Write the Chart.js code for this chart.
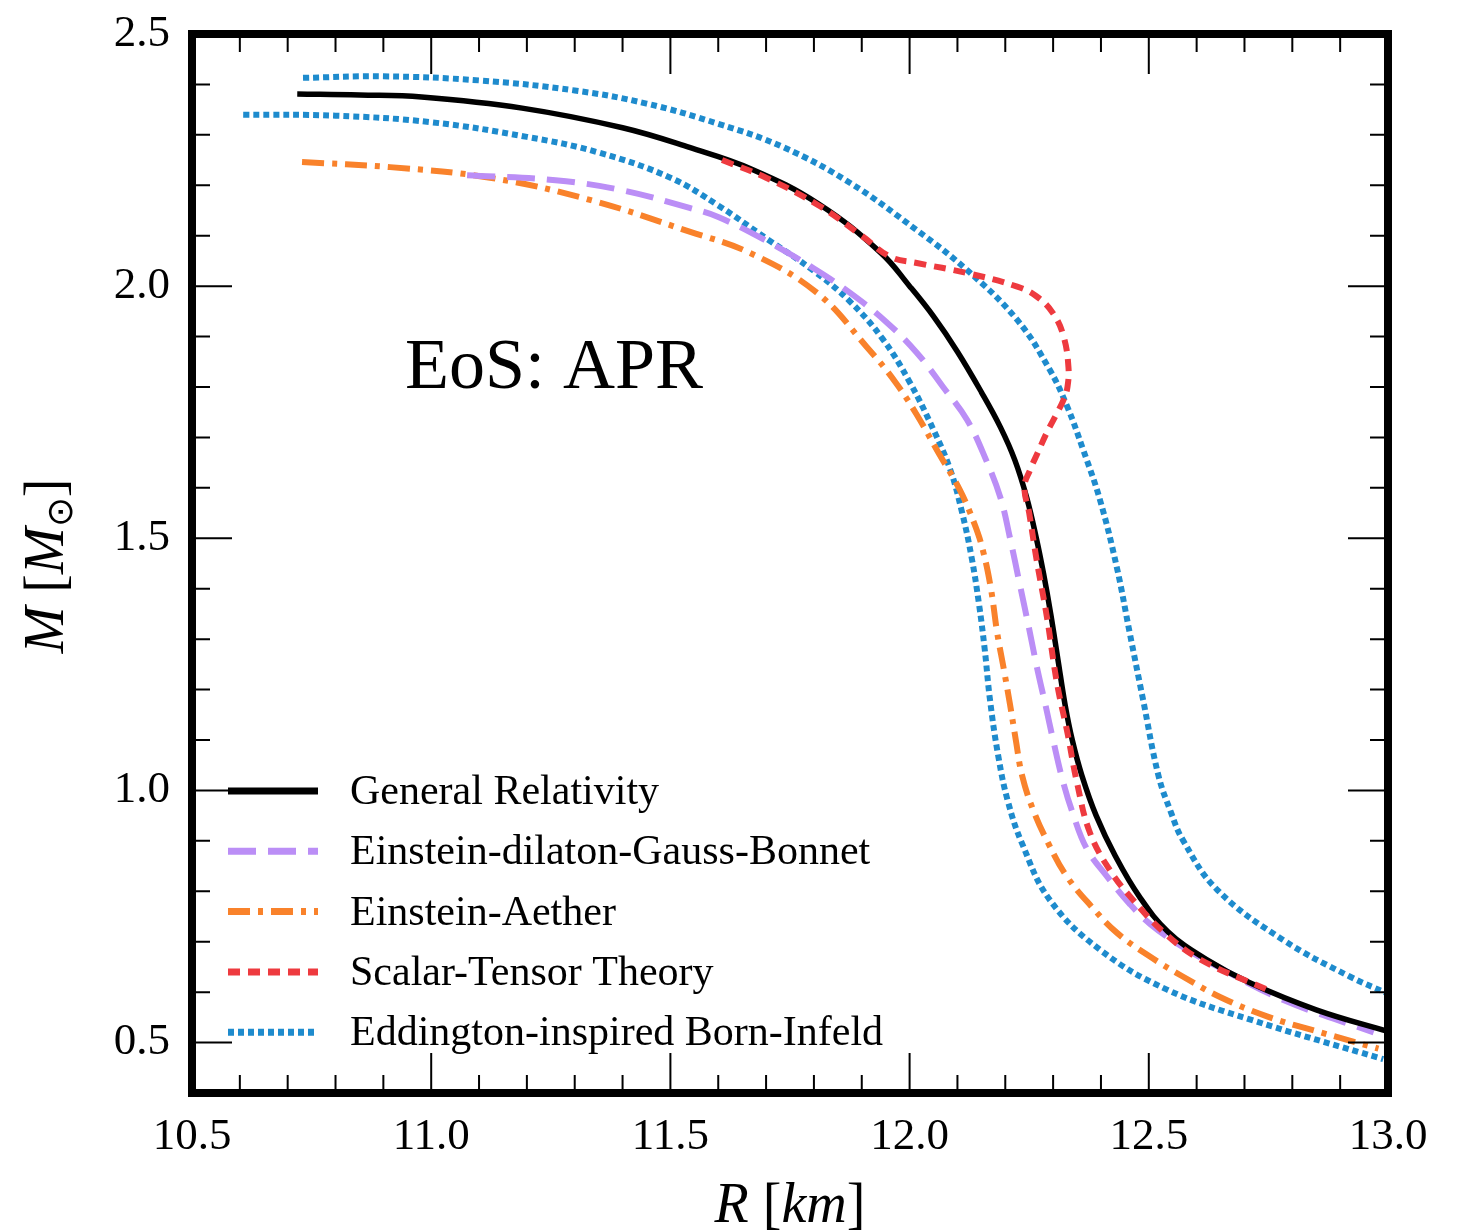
<!DOCTYPE html>
<html>
<head>
<meta charset="utf-8">
<script src="https://cdn.jsdelivr.net/npm/chart.js@4/dist/chart.umd.min.js"></script>
<style>
html,body{margin:0;padding:0;background:#fff;}
#wrap{width:1463px;height:1232px;}
</style>
</head>
<body>
<div id="wrap"><canvas id="c" width="1463" height="1232"></canvas></div>
<script>
// ---- Data (R in km, M in solar masses) ----
const grR = [10.72, 10.85, 10.98, 11.19, 11.40, 11.54, 11.67, 11.81, 11.94, 12.00, 12.05, 12.10, 12.15, 12.19, 12.22, 12.245, 12.265, 12.28, 12.295, 12.31, 12.325, 12.34, 12.36, 12.39, 12.43, 12.48, 12.54, 12.62, 12.71, 12.85, 13.0];
const grM = [2.381, 2.379, 2.375, 2.353, 2.314, 2.275, 2.232, 2.163, 2.066, 2.00, 1.94, 1.87, 1.79, 1.72, 1.655, 1.58, 1.50, 1.43, 1.35, 1.26, 1.17, 1.10, 1.03, 0.95, 0.87, 0.79, 0.72, 0.665, 0.619, 0.565, 0.522];

const edgbR = [11.075, 11.26, 11.40, 11.54, 11.60, 11.70, 11.80, 11.875, 11.95, 12.015, 12.07, 12.12, 12.16, 12.19, 12.21, 12.23, 12.25, 12.266, 12.285, 12.30, 12.32, 12.341, 12.37, 12.413, 12.46, 12.503, 12.57, 12.643, 12.78, 12.97];
const edgbM = [2.22, 2.21, 2.19, 2.155, 2.137, 2.09, 2.035, 1.987, 1.93, 1.868, 1.80, 1.735, 1.655, 1.58, 1.50, 1.41, 1.32, 1.245, 1.165, 1.10, 1.02, 0.955, 0.885, 0.829, 0.775, 0.735, 0.69, 0.651, 0.585, 0.52];

const eaR = [10.73, 10.914, 11.123, 11.332, 11.54, 11.666, 11.806, 11.91, 11.97, 12.015, 12.06, 12.105, 12.135, 12.153, 12.17, 12.183, 12.197, 12.21, 12.222, 12.235, 12.258, 12.29, 12.329, 12.38, 12.433, 12.50, 12.571, 12.65, 12.747, 12.86, 12.98];
const eaM = [2.246, 2.236, 2.215, 2.171, 2.108, 2.066, 1.987, 1.88, 1.81, 1.745, 1.67, 1.596, 1.53, 1.477, 1.40, 1.313, 1.24, 1.17, 1.10, 1.03, 0.962, 0.895, 0.829, 0.77, 0.718, 0.672, 0.631, 0.59, 0.552, 0.52, 0.488];

const stR = [11.608, 11.70, 11.81, 11.90, 11.96, 12.015, 12.12, 12.225, 12.265, 12.30, 12.322, 12.332, 12.33, 12.322, 12.308, 12.287, 12.268, 12.252, 12.24, 12.25, 12.265, 12.287, 12.308, 12.33, 12.35, 12.377, 12.42, 12.467, 12.53, 12.607, 12.747];
const stM = [2.25, 2.215, 2.16, 2.10, 2.058, 2.046, 2.026, 1.999, 1.98, 1.946, 1.90, 1.84, 1.80, 1.775, 1.748, 1.71, 1.67, 1.636, 1.602, 1.55, 1.46, 1.344, 1.213, 1.114, 1.015, 0.916, 0.84, 0.783, 0.72, 0.665, 0.605];

const eibiUpR = [10.732, 10.90, 11.10, 11.30, 11.45, 11.60, 11.735, 11.875, 12.015, 12.12, 12.225, 12.293, 12.33, 12.363, 12.398, 12.433, 12.46, 12.488, 12.52, 12.545, 12.571, 12.643, 12.78, 12.92, 13.0];
const eibiUpM = [2.413, 2.416, 2.408, 2.388, 2.362, 2.322, 2.276, 2.205, 2.111, 2.032, 1.933, 1.834, 1.76, 1.675, 1.576, 1.443, 1.313, 1.18, 1.03, 0.96, 0.902, 0.803, 0.704, 0.631, 0.597];

const eibiLoR = [10.607, 10.80, 11.00, 11.20, 11.35, 11.50, 11.60, 11.70, 11.80, 11.875, 11.944, 12.00, 12.05, 12.085, 12.11, 12.13, 12.145, 12.157, 12.168, 12.185, 12.205, 12.235, 12.293, 12.398, 12.538, 12.711, 12.99];
const eibiLoM = [2.34, 2.338, 2.325, 2.296, 2.265, 2.215, 2.16, 2.095, 2.03, 1.97, 1.895, 1.81, 1.715, 1.636, 1.55, 1.46, 1.37, 1.28, 1.18, 1.07, 0.98, 0.895, 0.783, 0.684, 0.605, 0.546, 0.467];

const legendLabels = ["General Relativity", "Einstein-dilaton-Gauss-Bonnet", "Einstein-Aether", "Scalar-Tensor Theory", "Eddington-inspired Born-Infeld"];
const annotationText = "EoS: APR";
const xMin = 10.5, xMax = 13.0, yMin = 0.4, yMax = 2.5;
const xMajor = [10.5, 11.0, 11.5, 12.0, 12.5, 13.0];
const yMajor = [0.5, 1.0, 1.5, 2.0, 2.5];

function pts(R, M){ return R.map((r,i)=>({x:r, y:M[i]})); }

const SERIF = '"Liberation Serif", "Times New Roman", serif';

const styles = [
  {color:'#000000', dash:[], width:5.5},
  {color:'#bb8ef6', dash:[28,12], width:6},
  {color:'#f9822b', dash:[22,8,5,8], width:6},
  {color:'#ee3a3f', dash:[12,8], width:6},
  {color:'#1e8bcd', dash:[6,4], width:6}
];

function ds(label, data, st, order){
  return {label, data, showLine:true, pointRadius:0, borderColor:st.color, backgroundColor:st.color,
    borderDash:st.dash, borderWidth:st.width, tension:0.4, fill:false, borderCapStyle:'butt', order};
}

const datasets = [
  ds(legendLabels[4], pts(eibiUpR, eibiUpM), styles[4], 5),
  ds(legendLabels[4]+" (2)", pts(eibiLoR, eibiLoM), styles[4], 5),
  ds(legendLabels[2], pts(eaR, eaM), styles[2], 4),
  ds(legendLabels[1], pts(edgbR, edgbM), styles[1], 3),
  ds(legendLabels[0], pts(grR, grM), styles[0], 2),
  ds(legendLabels[3], pts(stR, stM), styles[3], 1)
];

const framePlugin = {
  id:'frame',
  afterDatasetsDraw(chart){
    const {ctx, chartArea:a, scales:{x, y}} = chart;
    ctx.save();
    ctx.strokeStyle = '#000';
    ctx.lineWidth = 2;
    const majL = 40, minL = 18;
    for (let i = 0; i <= 25; i++){
      const v = xMin + i*0.1;
      const px = x.getPixelForValue(v);
      const isMaj = xMajor.some(m => Math.abs(m - v) < 1e-6);
      const L = isMaj ? majL : minL;
      ctx.beginPath();
      ctx.moveTo(px, a.bottom); ctx.lineTo(px, a.bottom - L);
      ctx.moveTo(px, a.top); ctx.lineTo(px, a.top + L);
      ctx.stroke();
    }
    for (let i = 0; i <= 21; i++){
      const v = yMin + i*0.1;
      const py = y.getPixelForValue(v);
      const isMaj = yMajor.some(m => Math.abs(m - v) < 1e-6);
      const L = isMaj ? majL : minL;
      ctx.beginPath();
      ctx.moveTo(a.left, py); ctx.lineTo(a.left + L, py);
      ctx.moveTo(a.right, py); ctx.lineTo(a.right - L, py);
      ctx.stroke();
    }
    ctx.lineWidth = 8;
    ctx.strokeRect(a.left, a.top, a.right - a.left, a.bottom - a.top);

    // annotation
    ctx.fillStyle = '#000';
    ctx.font = '72px ' + SERIF;
    ctx.textAlign = 'left';
    ctx.textBaseline = 'alphabetic';
    ctx.fillText(annotationText, 405, 388);

    // legend
    const lx0 = 228, lx1 = 318, tx = 350, ly0 = 791, dy = 60.3;
    ctx.font = '42px ' + SERIF;
    ctx.textBaseline = 'middle';
    legendLabels.forEach((lab, i) => {
      const st = styles[i];
      const yy = ly0 + i*dy;
      ctx.beginPath();
      ctx.strokeStyle = st.color;
      ctx.lineWidth = 7;
      ctx.setLineDash(st.dash);
      ctx.lineCap = 'butt';
      ctx.moveTo(lx0, yy); ctx.lineTo(lx1, yy);
      ctx.stroke();
      ctx.setLineDash([]);
      ctx.fillStyle = '#000';
      ctx.fillText(lab, tx, yy + 2);
    });

    // x axis title: R [km]
    ctx.textBaseline = 'alphabetic';
    const fs = 56;
    const parts = [['italic ', 'R'], ['', ' ['], ['italic ', 'km'], ['', ']']];
    let w = 0;
    parts.forEach(p => { ctx.font = p[0] + fs + 'px ' + SERIF; w += ctx.measureText(p[1]).width; });
    let cx = (a.left + a.right)/2 - w/2;
    parts.forEach(p => { ctx.font = p[0] + fs + 'px ' + SERIF; ctx.fillText(p[1], cx, 1222); cx += ctx.measureText(p[1]).width; });

    // y axis title: M [M_sun]
    ctx.save();
    ctx.translate(63, 566);
    ctx.rotate(-Math.PI/2);
    const yparts = [['italic ', 'M', fs, 0], ['', ' [', fs, 0], ['italic ', 'M', fs, 0], ['', '\u2299', 36, 9], ['', ']', fs, 0]];
    w = 0;
    yparts.forEach(p => { ctx.font = p[0] + p[2] + 'px ' + SERIF; w += ctx.measureText(p[1]).width; });
    cx = -w/2;
    yparts.forEach(p => { ctx.font = p[0] + p[2] + 'px ' + SERIF; ctx.fillText(p[1], cx, p[3]); cx += ctx.measureText(p[1]).width; });
    ctx.restore();

    ctx.restore();
  }
};

new Chart(document.getElementById('c'), {
  type:'scatter',
  data:{datasets},
  options:{
    responsive:false,
    animation:false,
    layout:{padding:{top:34, right:75, left:0, bottom:0}},
    plugins:{legend:{display:false}, tooltip:{enabled:false}},
    scales:{
      x:{type:'linear', min:xMin, max:xMax,
        grid:{display:false}, border:{display:false},
        ticks:{stepSize:0.5, padding:9, color:'#000', font:{family:SERIF, size:45}, maxRotation:0,
          callback:(v)=>Number(v).toFixed(1)},
        afterFit(s){ s.height = 139; s.paddingLeft = 0; s.paddingRight = 0; }
      },
      y:{type:'linear', min:yMin, max:yMax,
        grid:{display:false}, border:{display:false},
        afterBuildTicks(s){ s.ticks = yMajor.map(v=>({value:v})); },
        ticks:{padding:14, color:'#000', font:{family:SERIF, size:45},
          callback:(v)=>Number(v).toFixed(1)},
        afterFit(s){ s.width = 192; s.paddingTop = 0; s.paddingBottom = 0; }
      }
    }
  },
  plugins:[framePlugin]
});
</script>
</body>
</html>
